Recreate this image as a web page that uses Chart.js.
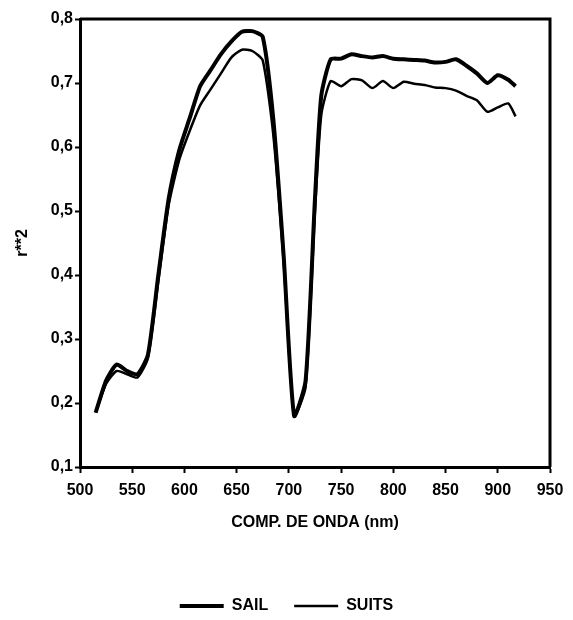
<!DOCTYPE html>
<html>
<head>
<meta charset="utf-8">
<script src="https://cdn.jsdelivr.net/npm/chart.js@4/dist/chart.umd.min.js"></script>
<style>
  html, body { margin: 0; padding: 0; background: #fff; }
  #wrap { width: 573px; height: 620px; position: relative; }
</style>
</head>
<body>
<div id="wrap"><canvas id="c" width="573" height="620"></canvas></div>
<script>
// Wavelengths (nm)
const wavelengths = [515, 525, 535, 545, 555, 565, 575, 585, 595, 605, 615, 625, 635, 645, 655, 665, 675, 685, 695, 705, 716, 725, 731, 740, 750, 760, 770, 780, 790, 800, 810, 820, 830, 840, 850, 860, 870, 880, 890, 900, 910, 917];
// r**2 for SAIL
const sailValues = [0.185, 0.235, 0.26, 0.25, 0.245, 0.275, 0.40, 0.52, 0.595, 0.645, 0.695, 0.72, 0.745, 0.765, 0.78, 0.781, 0.772, 0.645, 0.43, 0.18, 0.235, 0.52, 0.68, 0.737, 0.738, 0.745, 0.742, 0.740, 0.742, 0.738, 0.737, 0.736, 0.735, 0.732, 0.733, 0.737, 0.727, 0.715, 0.70, 0.712, 0.705, 0.695];
// r**2 for SUITS
const suitsValues = [0.185, 0.23, 0.25, 0.245, 0.24, 0.27, 0.39, 0.51, 0.58, 0.625, 0.665, 0.69, 0.715, 0.74, 0.752, 0.75, 0.735, 0.62, 0.42, 0.18, 0.225, 0.50, 0.65, 0.703, 0.695, 0.706, 0.704, 0.692, 0.703, 0.692, 0.702, 0.699, 0.697, 0.693, 0.692, 0.688, 0.68, 0.673, 0.655, 0.662, 0.668, 0.648];
const seriesNames = ['SAIL', 'SUITS'];
const xTickRange = [500, 950, 50];
const yTickRange = [0.1, 0.8, 0.1];
const xTitle = 'COMP. DE ONDA (nm)';
const yTitle = 'r**2';

const toPts = (vals) => wavelengths.map((w, i) => ({ x: w, y: vals[i] }));
const FONT = '"Liberation Sans", Arial, sans-serif';

const framePlugin = {
  id: 'frame',
  afterDatasetsDraw(chart) {
    const { ctx, chartArea: a } = chart;
    ctx.save();
    ctx.strokeStyle = '#000';
    ctx.lineWidth = 3;
    ctx.beginPath();
    ctx.moveTo(a.left, a.top);
    ctx.lineTo(a.right, a.top);
    ctx.lineTo(a.right, a.bottom);
    ctx.stroke();
    ctx.restore();
  }
};

// wide horizontal gap between legend items, compact legend box, centred on the full canvas
const legendLayoutPlugin = {
  id: 'legendLayout',
  beforeLayout(chart) {
    const lg = chart.legend;
    if (lg && !lg._patched) {
      const orig = lg.fit;
      lg.fit = function () { orig.call(this); this.height = 48; };
      lg._patched = true;
    }
  },
  afterLayout(chart) {
    const lg = chart.legend;
    if (lg) { lg.left = 0; lg.right = chart.width; lg.width = chart.width; }
  }
};

new Chart(document.getElementById('c'), {
  type: 'line',
  data: {
    datasets: [
      { label: seriesNames[0], data: toPts(sailValues), borderColor: '#000', backgroundColor: '#000', borderWidth: 4, pointRadius: 0, tension: 0.2, pointStyle: 'line' },
      { label: seriesNames[1], data: toPts(suitsValues), borderColor: '#000', backgroundColor: '#000', borderWidth: 2.5, pointRadius: 0, tension: 0.2, pointStyle: 'line' }
    ]
  },
  options: {
    responsive: false,
    animation: false,
    layout: { padding: { top: 19, right: 23, left: 0, bottom: 0 } },
    plugins: {
      tooltip: { enabled: false },
      legend: {
        position: 'bottom',
        labels: {
          usePointStyle: true,
          pointStyleWidth: 44,
          padding: 26,
          color: '#000',
          font: { family: FONT, size: 16, weight: 'bold' }
        }
      }
    },
    scales: {
      x: {
        type: 'linear',
        min: xTickRange[0], max: xTickRange[1],
        ticks: { stepSize: xTickRange[2], color: '#000', padding: 8, maxRotation: 0, font: { family: FONT, size: 16, weight: 'bold' } },
        grid: { display: true, drawOnChartArea: false, drawTicks: true, tickLength: 6, tickWidth: 2, tickColor: '#000' },
        border: { display: true, color: '#000', width: 3 },
        title: { display: true, text: xTitle, color: '#000', padding: { top: 8, bottom: 40 }, font: { family: FONT, size: 16, weight: 'bold' } },
        afterFit(s) { s.height = 105; }
      },
      y: {
        type: 'linear',
        min: yTickRange[0], max: yTickRange[1],
        ticks: { stepSize: yTickRange[2], color: '#000', padding: 2, font: { family: FONT, size: 16, weight: 'bold' },
          callback: (v) => v.toFixed(1).replace('.', ',') },
        grid: { display: true, drawOnChartArea: false, drawTicks: true, tickLength: 5, tickWidth: 2, tickColor: '#000' },
        border: { display: true, color: '#000', width: 3 },
        title: { display: true, text: yTitle, color: '#000', padding: { top: 13, bottom: 0 }, font: { family: FONT, size: 16, weight: 'bold' } },
        afterFit(s) { s.width = 80; }
      }
    }
  },
  plugins: [framePlugin, legendLayoutPlugin]
});
</script>
</body>
</html>
